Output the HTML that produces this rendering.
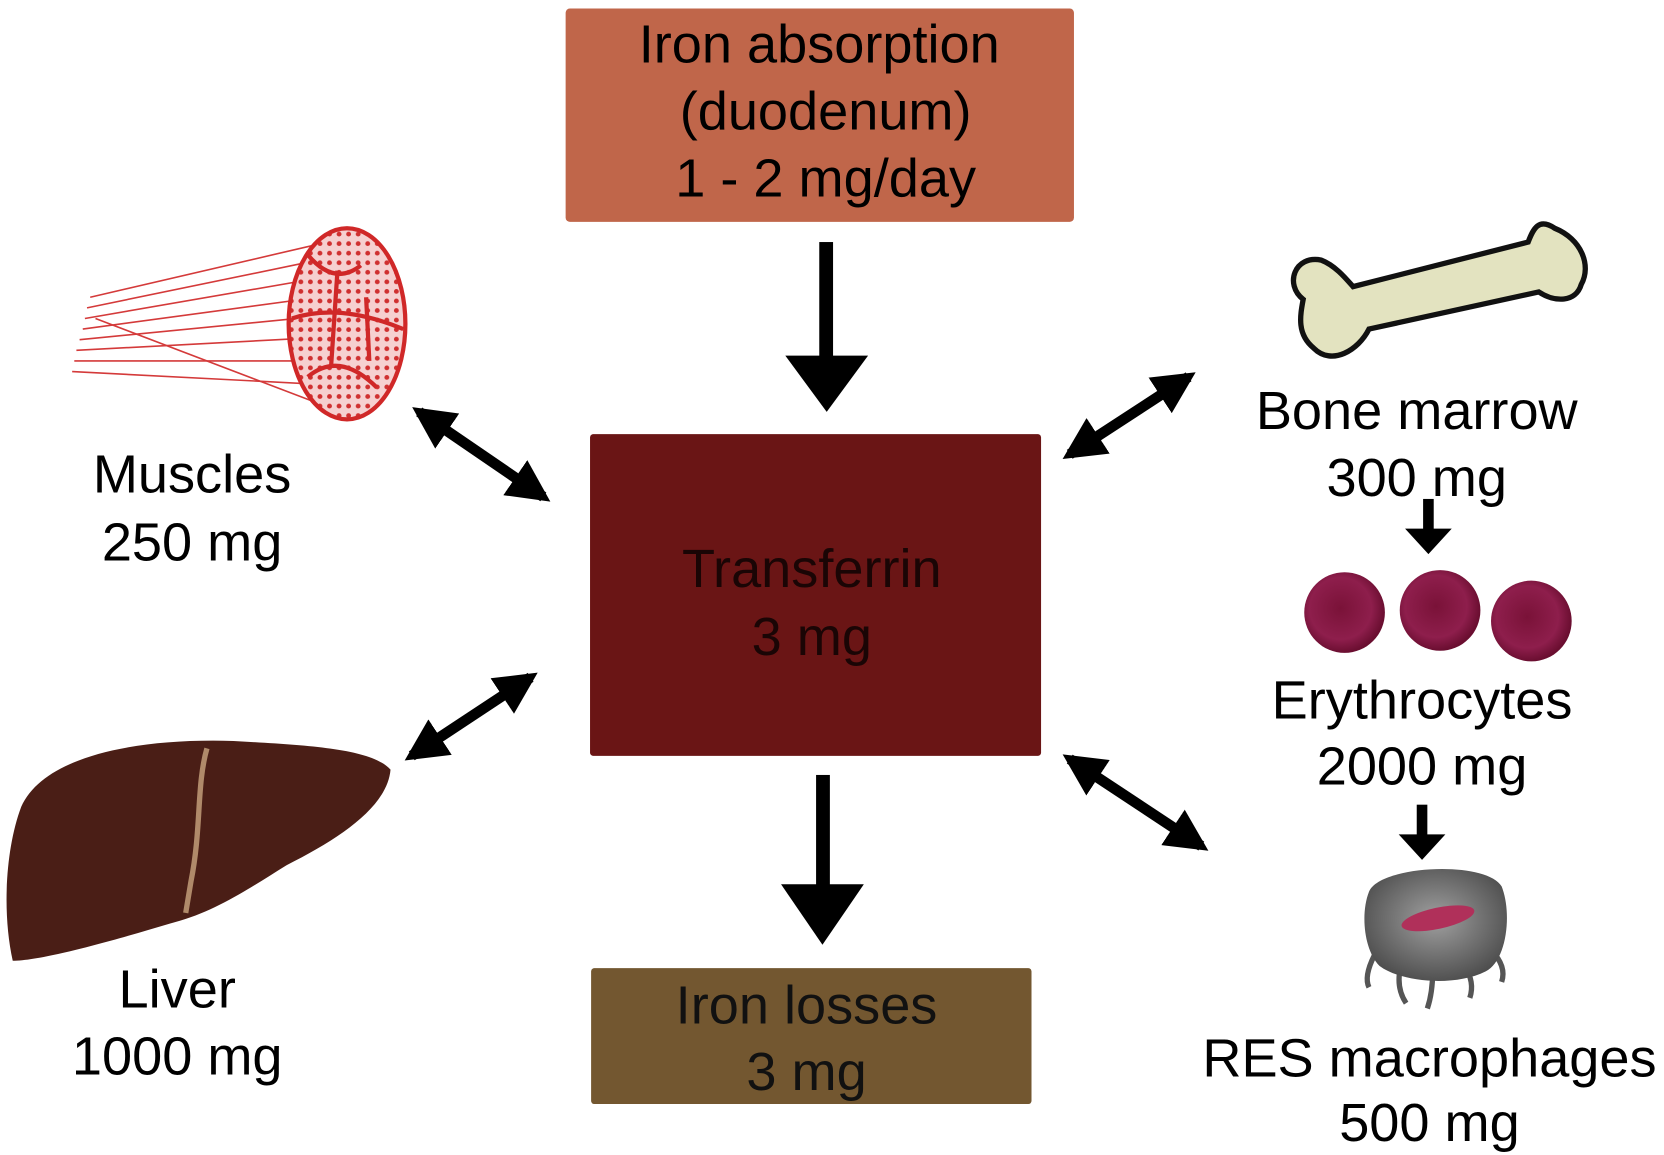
<!DOCTYPE html>
<html><head><meta charset="utf-8"><style>
html,body{margin:0;padding:0;background:#fff;}
svg{display:block;}
text{font-family:"Liberation Sans",sans-serif;font-size:51px;text-anchor:middle;}
</style></head><body>
<svg width="1664" height="1155" viewBox="0 0 1568 1088" preserveAspectRatio="none" xmlns="http://www.w3.org/2000/svg">
<defs>
<marker id="ah" viewBox="0 0 10 10" refX="8" refY="5" markerWidth="4" markerHeight="4" orient="auto-start-reverse"><path d="M0,0 L10,5 L0,10 z" fill="#000"/></marker>
<radialGradient id="rbc" cx="45%" cy="45%" r="55%"><stop offset="0" stop-color="#7a1238"/><stop offset="0.7" stop-color="#8e1e4c"/><stop offset="1" stop-color="#6a0e30"/></radialGradient>
<radialGradient id="mac" cx="50%" cy="45%" r="60%"><stop offset="0" stop-color="#a0a0a0"/><stop offset="1" stop-color="#4a4a4a"/></radialGradient>
<pattern id="dots" width="9" height="9" patternUnits="userSpaceOnUse"><rect width="9" height="9" fill="#f6d0d0"/><circle cx="4.5" cy="4.5" r="2.3" fill="#d03030"/></pattern>
</defs>
<rect x="533" y="8" width="479" height="201" rx="4" fill="#c0664a"/>
<text x="772" y="59">Iron absorption</text>
<text x="778" y="122">(duodenum)</text>
<text x="778" y="185">1 - 2 mg/day</text>

<rect x="556" y="409" width="425" height="303" rx="3" fill="#6a1515"/>
<text x="765" y="553" fill="#1a0505">Transferrin</text>
<text x="765" y="617" fill="#1a0505">3 mg</text>

<rect x="557" y="912" width="415" height="128" rx="3" fill="#735730"/>
<text x="760" y="964" fill="#111">Iron losses</text>
<text x="760" y="1027" fill="#111">3 mg</text>

<rect x="772" y="228" width="13" height="110" fill="#000"/>
<polygon points="740,335 818,335 779,388" fill="#000"/>
<rect x="769" y="730" width="13" height="106" fill="#000"/>
<polygon points="736,833 814,833 775,890" fill="#000"/>

<g stroke="#000" stroke-width="10" marker-start="url(#ah)" marker-end="url(#ah)">
<line x1="395" y1="388" x2="512" y2="468"/>
<line x1="388" y1="712" x2="500" y2="638"/>
<line x1="1008" y1="428" x2="1120" y2="355"/>
<line x1="1008" y1="715" x2="1132" y2="797"/>
</g>
<rect x="1341" y="470" width="10" height="30" fill="#000"/>
<polygon points="1324,498 1368,498 1346,522" fill="#000"/>
<rect x="1335" y="758" width="10" height="30" fill="#000"/>
<polygon points="1318,786 1362,786 1340,810" fill="#000"/>

<text x="181" y="464">Muscles</text>
<text x="181" y="528">250 mg</text>
<text x="167" y="949">Liver</text>
<text x="167" y="1012">1000 mg</text>
<text x="1335" y="404">Bone marrow</text>
<text x="1335" y="467">300 mg</text>
<text x="1340" y="677">Erythrocytes</text>
<text x="1340" y="739">2000 mg</text>
<text x="1347" y="1014">RES macrophages</text>
<text x="1347" y="1075">500 mg</text>

<circle cx="1267" cy="577" r="38" fill="url(#rbc)"/>
<circle cx="1357" cy="575" r="38" fill="url(#rbc)"/>
<circle cx="1443" cy="585" r="38" fill="url(#rbc)"/>

<path d="M1228,282 C1210,268 1220,240 1245,245 C1258,250 1268,262 1275,270 L1440,228 C1445,215 1450,205 1465,215 C1490,225 1500,250 1490,268 C1485,285 1465,285 1450,275 L1290,310 C1280,330 1255,345 1238,328 C1222,315 1225,298 1228,282 Z" fill="#e3e3c0" stroke="#111" stroke-width="5"/>

<g stroke="#d43a3a" stroke-width="1.5" fill="none">
<path d="M85,280 L300,230"/><path d="M82,290 L300,245"/><path d="M80,300 L300,262"/><path d="M78,310 L300,280"/><path d="M75,320 L300,298"/><path d="M72,330 L300,318"/><path d="M70,340 L300,340"/><path d="M68,350 L300,362"/><path d="M90,300 L300,380"/>
</g>
<ellipse cx="327" cy="305" rx="55" ry="90" fill="url(#dots)" stroke="#d02828" stroke-width="4"/>
<g stroke="#d02828" stroke-width="4" fill="none">
<path d="M290,240 Q315,270 340,250"/><path d="M275,300 Q320,285 380,310"/><path d="M290,355 Q320,330 355,365"/><path d="M318,255 L312,345"/><path d="M345,280 L348,340"/>
</g>

<path d="M20,760 C40,715 120,695 220,698 C290,702 350,705 368,725 C365,760 320,790 270,815 C230,840 200,860 160,870 C110,885 40,905 12,905 C2,860 5,800 20,760 Z" fill="#4a1e16"/>
<path d="M195,705 C185,740 190,780 180,830 L175,860" stroke="#b08a6a" stroke-width="5" fill="none"/>

<g stroke="#555" stroke-width="5" fill="none">
<path d="M1295,900 q-10,20 -5,30"/><path d="M1320,910 q-5,20 5,35"/><path d="M1350,915 q0,20 -5,35"/><path d="M1380,910 q10,15 5,30"/><path d="M1405,895 q15,15 10,30"/>
</g>
<path d="M1290,840 C1300,815 1400,810 1415,835 C1425,860 1420,905 1400,915 C1370,930 1320,925 1300,910 C1285,895 1282,860 1290,840 Z" fill="url(#mac)"/>
<ellipse cx="1355" cy="865" rx="35" ry="10" fill="#b0305a" transform="rotate(-12 1355 865)"/>
</svg>
</body></html>
